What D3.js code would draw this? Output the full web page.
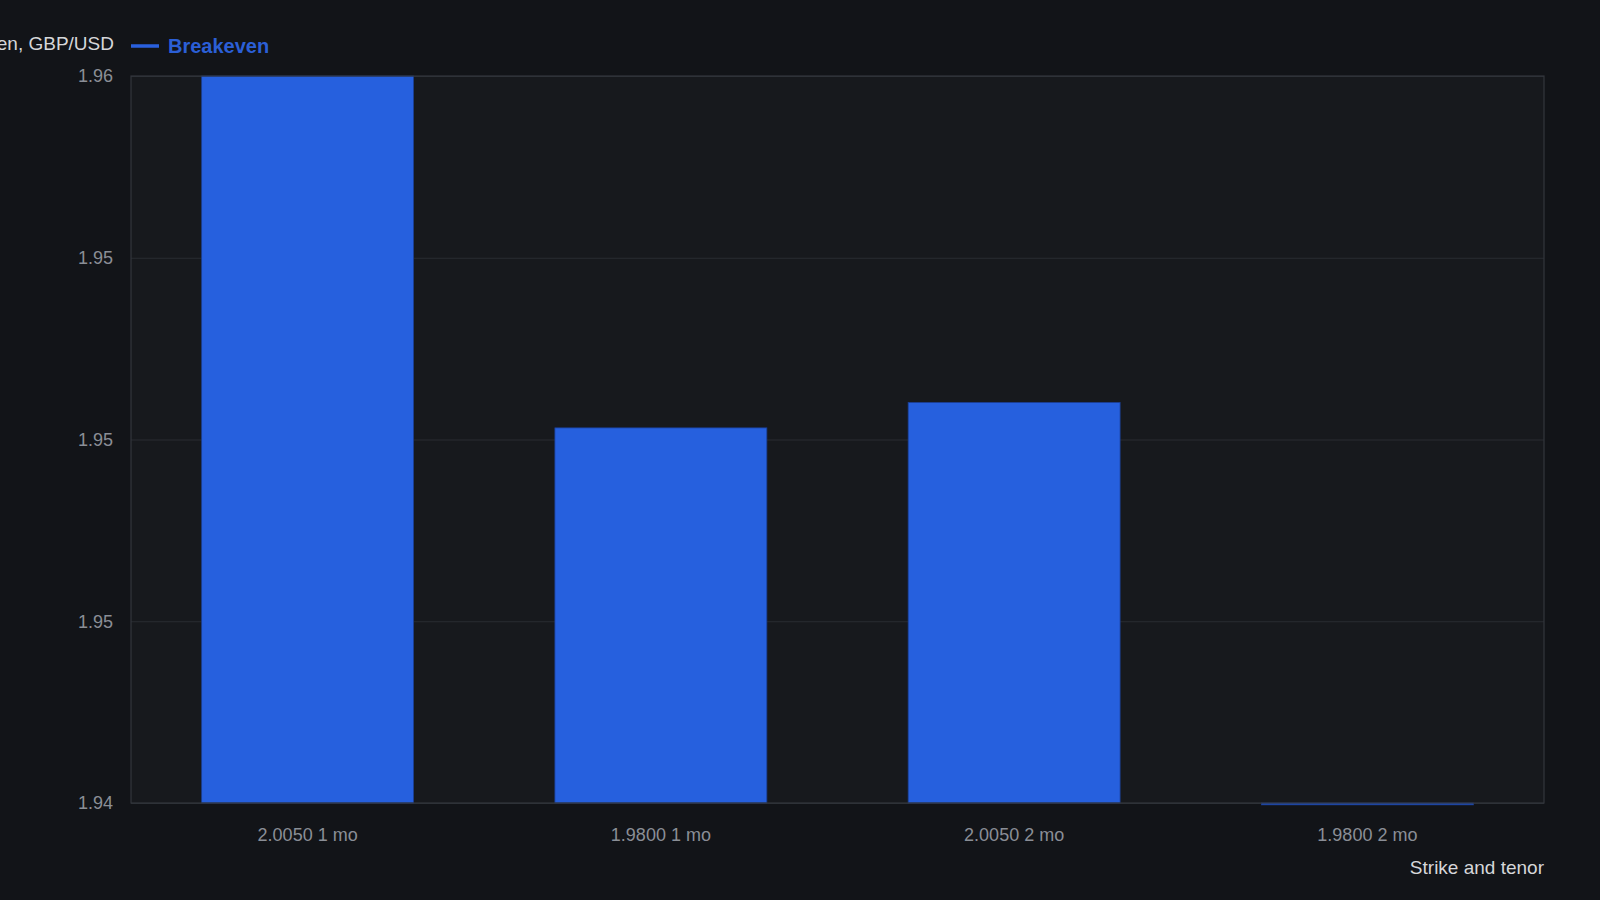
<!DOCTYPE html>
<html><head><meta charset="utf-8">
<script src="https://cdn.jsdelivr.net/npm/d3@7"></script>
<style>html,body{margin:0;padding:0;background:#121418;overflow:hidden}</style>
</head><body>
<svg id="c" width="1600" height="900"></svg>
<script>
const categories = ["2.0050 1 mo", "1.9800 1 mo", "2.0050 2 mo", "1.9800 2 mo"];
const breakeven = [1.9600, 1.95032, 1.95102, 1.93995];
const yTicks = [1.94, 1.945, 1.95, 1.955, 1.96];
const yTickLabels = ["1.94", "1.95", "1.95", "1.95", "1.96"];
const seriesName = "Breakeven";
const yTitle = "Breakeven, GBP/USD";
const xTitle = "Strike and tenor";

const svg = d3.select("#c");
const W = 1600, H = 900;
const m = {l: 131, r: 56, t: 76, b: 97};
const font = "'Liberation Sans', Arial, sans-serif";
svg.append("rect").attr("width", W).attr("height", H).attr("fill", "#121418");

const x = d3.scaleBand().domain(categories).range([m.l, W - m.r]).paddingInner(0.4).paddingOuter(0.2);
const y = d3.scaleLinear().domain([1.94, 1.96]).range([H - m.b, m.t]);

svg.append("rect").attr("x", m.l).attr("y", m.t).attr("width", W - m.r - m.l).attr("height", H - m.b - m.t)
  .attr("fill", "#17191d");

// grid
const yAxis = d3.axisLeft(y).tickValues(yTicks).tickSize(-(W - m.l - m.r)).tickPadding(18)
  .tickFormat((d, i) => yTickLabels[i]);
const gy = svg.append("g").attr("transform", `translate(${m.l},0)`).call(yAxis);
gy.select(".domain").remove();
gy.selectAll(".tick line").attr("stroke", "#2a2d32").attr("stroke-width", 1);
gy.selectAll(".tick text").attr("fill", "#8a8e96").attr("font-family", font).attr("font-size", 18);

// bars
svg.append("g").selectAll("rect").data(breakeven).join("rect")
  .attr("x", (d, i) => x(categories[i]))
  .attr("width", x.bandwidth())
  .attr("y", d => Math.min(y(d), y(1.94)))
  .attr("height", d => Math.abs(y(d) - y(1.94)))
  .attr("fill", "#2660de")
  .attr("stroke", "#1b3f93").attr("stroke-width", 0.8);

// plot border
svg.append("rect").attr("x", m.l).attr("y", m.t).attr("width", W - m.r - m.l).attr("height", H - m.b - m.t)
  .attr("fill", "none").attr("stroke", "#33363c").attr("stroke-width", 1.2);

// x axis
const xAxis = d3.axisBottom(x).tickSize(0).tickPadding(25);
const gx = svg.append("g").attr("transform", `translate(0,${H - m.b})`).call(xAxis);
gx.select(".domain").remove();
gx.selectAll(".tick text").attr("fill", "#8a8e96").attr("font-family", font).attr("font-size", 18);

// titles
svg.append("text").attr("x", W - m.r).attr("y", 874).attr("text-anchor", "end")
  .attr("fill", "#d6d7da").attr("font-family", font).attr("font-size", 19).text(xTitle);
svg.append("text").attr("x", 114).attr("y", 50).attr("text-anchor", "end")
  .attr("fill", "#d6d7da").attr("font-family", font).attr("font-size", 19).text(yTitle);

// legend
svg.append("line").attr("x1", 131).attr("x2", 159).attr("y1", 46).attr("y2", 46)
  .attr("stroke", "#2a60de").attr("stroke-width", 3.5);
svg.append("text").attr("x", 168).attr("y", 52.5).attr("fill", "#2b5fd6")
  .attr("font-family", font).attr("font-size", 20).attr("font-weight", "bold").text(seriesName);
</script>
</body></html>
